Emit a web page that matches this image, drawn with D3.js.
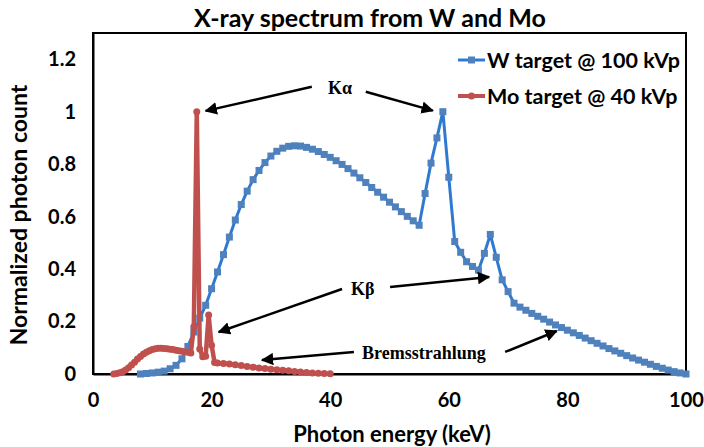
<!DOCTYPE html>
<html><head><meta charset="utf-8">
<script src="https://cdn.jsdelivr.net/npm/d3@7"></script>
<style>body{margin:0;background:#fff}svg{display:block}</style>
</head><body>
<svg id="c" width="704" height="447"></svg>
<script>
// ---- data ----
const wEnergy = [8,9,10,11,12,13,14,15,16,17,18,19,20,21,22,23,24,25,26,27,28,29,30,31,32,33,34,35,36,37,38,39,40,41,42,43,44,45,46,47,48,49,50,51,52,53,54,55,56,57,58,59,60,61,62,63,64,65,66,67,68,69,70,71,72,73,74,75,76,77,78,79,80,81,82,83,84,85,86,87,88,89,90,91,92,93,94,95,96,97,98,99,100];
const wCount = [0.0,0.002,0.004,0.007,0.011,0.02,0.033,0.058,0.105,0.16,0.213,0.262,0.325,0.389,0.455,0.522,0.587,0.646,0.697,0.741,0.776,0.806,0.831,0.849,0.861,0.868,0.870,0.869,0.864,0.857,0.848,0.837,0.826,0.813,0.799,0.783,0.766,0.748,0.730,0.711,0.693,0.674,0.655,0.637,0.619,0.601,0.584,0.567,0.688,0.804,0.900,1.000,0.750,0.505,0.464,0.428,0.410,0.396,0.460,0.532,0.445,0.359,0.314,0.270,0.255,0.243,0.231,0.220,0.209,0.198,0.187,0.177,0.167,0.157,0.147,0.137,0.127,0.117,0.107,0.097,0.088,0.079,0.070,0.061,0.053,0.045,0.037,0.029,0.022,0.015,0.009,0.004,0.000];
const moEnergy = [3.5,4,4.5,5,5.5,6,6.5,7,7.5,8,8.5,9,9.5,10,10.5,11,11.5,12,12.5,13,13.5,14,14.5,15,15.5,16,16.5,17,17.5,18,18.5,19,19.5,20,20.5,21,22,23,24,25,26,27,28,29,30,31,32,33,34,35,36,37,38,39,40];
const moCount = [0.0,0.002,0.005,0.009,0.015,0.024,0.034,0.045,0.057,0.067,0.076,0.083,0.089,0.093,0.096,0.098,0.098,0.097,0.096,0.094,0.093,0.091,0.089,0.087,0.085,0.083,0.080,0.180,1.000,0.095,0.066,0.068,0.225,0.110,0.044,0.042,0.040,0.038,0.035,0.032,0.029,0.026,0.023,0.021,0.018,0.016,0.014,0.012,0.010,0.008,0.006,0.004,0.003,0.002,0.001];
const seriesNames = ["W target @ 100 kVp", "Mo target @ 40 kVp"];
const xTicks = [0,20,40,60,80,100];
const yTicks = [0,0.2,0.4,0.6,0.8,1,1.2];
// annotations in data units
const annoTexts = [
  {t:"K\u03b1", x:41.65, y:1.092},
  {t:"K\u03b2", x:45.5, y:0.324},
  {t:"Bremsstrahlung", x:55.8, y:0.08}
];
const annoArrows = [
  {x1:36.9,y1:1.095,x2:19.0,y2:1.003},
  {x1:46.0,y1:1.076,x2:57.3,y2:1.004},
  {x1:42.0,y1:0.324,x2:21.2,y2:0.160},
  {x1:50.1,y1:0.332,x2:66.8,y2:0.370},
  {x1:44.0,y1:0.084,x2:28.5,y2:0.053},
  {x1:69.5,y1:0.084,x2:78.2,y2:0.164}
];

// ---- layout ----
const L=93, R=686, T=33, B=374;
const x = d3.scaleLinear().domain([0,100]).range([L,R]);
const y = d3.scaleLinear().domain([0,1.3]).range([B,T]);
const svg = d3.select("#c");
const blueLine="#2f7ad0", blueMk="#4f81bd", red="#c0504d";
const font="Lato, 'Open Sans', sans-serif";

svg.append("defs").append("marker").attr("id","ah").attr("viewBox","0 0 10 10")
  .attr("refX",9).attr("refY",5).attr("markerWidth",5).attr("markerHeight",5)
  .attr("orient","auto").attr("markerUnits","strokeWidth")
  .append("path").attr("d","M0,0L10,5L0,10z").attr("fill","#000");

// title
svg.append("text").attr("x",370).attr("y",27).attr("text-anchor","middle")
  .attr("font-family",font).attr("font-weight","bold").attr("font-size",25).text("X-ray spectrum from W and Mo");

// frame
svg.append("rect").attr("x",L).attr("y",T).attr("width",R-L).attr("height",B-T)
  .attr("fill","none").attr("stroke","#000").attr("stroke-width",2);

// axes
const xAxis = d3.axisBottom(x).tickValues(xTicks).tickSize(0).tickPadding(19).tickFormat(d=>d);
const gx = svg.append("g").attr("transform",`translate(0,${B})`).call(xAxis);
gx.select(".domain").attr("stroke","#000").attr("stroke-width",2);
gx.selectAll("text").attr("font-family",font).attr("font-weight","bold").attr("font-size",20).attr("fill","#000");
const yAxis = d3.axisLeft(y).tickValues(yTicks).tickSize(0).tickPadding(17).tickFormat(d=>String(+d.toFixed(1)));
const gy = svg.append("g").attr("transform",`translate(${L},0)`).call(yAxis);
gy.select(".domain").attr("stroke","#000").attr("stroke-width",2);
gy.selectAll("text").attr("font-family",font).attr("font-weight","bold").attr("font-size",20).attr("fill","#000");

svg.append("text").attr("x",392).attr("y",442).attr("text-anchor","middle")
  .attr("font-family",font).attr("font-weight","bold").attr("font-size",22).text("Photon energy (keV)");
svg.append("text").attr("transform","translate(27,215) rotate(-90)").attr("text-anchor","middle")
  .attr("font-family",font).attr("font-weight","bold").attr("font-size",23).text("Normalized photon count");

// series
const wData = wEnergy.map((e,i)=>[e,wCount[i]]);
const moData = moEnergy.map((e,i)=>[e,moCount[i]]);
const line = d3.line().x(d=>x(d[0])).y(d=>y(d[1]));
svg.append("path").datum(wData).attr("d",line).attr("fill","none").attr("stroke",blueLine).attr("stroke-width",3).attr("stroke-linejoin","round");
svg.append("g").selectAll("rect").data(wData).join("rect")
  .attr("x",d=>x(d[0])-3.5).attr("y",d=>y(d[1])-3.5).attr("width",7).attr("height",7).attr("fill",blueMk);
svg.append("path").datum(moData).attr("d",line).attr("fill","none").attr("stroke",red).attr("stroke-width",4.5).attr("stroke-linejoin","round");
svg.append("g").selectAll("circle").data(moData).join("circle")
  .attr("cx",d=>x(d[0])).attr("cy",d=>y(d[1])).attr("r",3.5).attr("fill",red);

// legend
const leg = [{c:blueLine,m:blueMk,shape:"sq",y:60},{c:red,m:red,shape:"ci",y:96}];
leg.forEach((l,i)=>{
  const g = svg.append("g");
  g.append("line").attr("x1",458).attr("x2",485).attr("y1",l.y).attr("y2",l.y).attr("stroke",l.c).attr("stroke-width",i?4:3);
  if(l.shape==="sq") g.append("rect").attr("x",468).attr("y",l.y-3.5).attr("width",7).attr("height",7).attr("fill",l.m);
  else g.append("circle").attr("cx",471.5).attr("cy",l.y).attr("r",3.5).attr("fill",l.m);
  g.append("text").attr("x",487).attr("y",l.y+8).attr("font-family",font).attr("font-weight","bold")
   .attr("font-size",21.5).text(seriesNames[i]);
});

// annotations
svg.append("g").selectAll("line").data(annoArrows).join("line")
  .attr("x1",d=>x(d.x1)).attr("y1",d=>y(d.y1)).attr("x2",d=>x(d.x2)).attr("y2",d=>y(d.y2))
  .attr("stroke","#000").attr("stroke-width",2.5).attr("marker-end","url(#ah)");
svg.append("g").selectAll("text").data(annoTexts).join("text")
  .attr("x",d=>x(d.x)).attr("y",d=>y(d.y)).attr("dy","0.35em").attr("text-anchor","middle")
  .attr("font-family","'Liberation Serif', 'DejaVu Serif', serif").attr("font-weight","bold")
  .attr("font-size",d=>d.t.length>3?18:18).text(d=>d.t);
</script>
</body></html>
